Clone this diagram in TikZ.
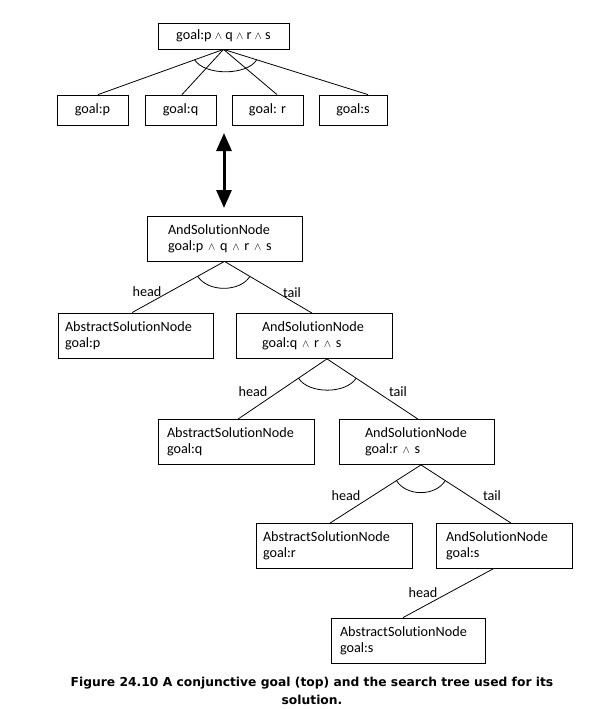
\documentclass[tikz,border=0pt]{standalone}
\usepackage{fontspec}
\setmainfont[Ligatures=NoCommon]{Carlito}
\newfontfamily\capfont{DejaVu Sans}
\usetikzlibrary{arrows.meta,calc}
\hyphenpenalty=10000
\exhyphenpenalty=10000
\newcommand\wdg{{\fontsize{11}{11}\selectfont$\wedge$}}
\newcommand\andarc[4]{%
  \draw[edge] ($(#1)!#4!(#2)$) .. controls +(10,16) and +(-10,16) .. ($(#1)!#4!(#3)$);}
\begin{document}
\begin{tikzpicture}[x=1pt,y=-1pt,
  txt/.style={font=\fontsize{14.2}{16}\selectfont},
  gbox/.style={draw, line width=0.8pt, rectangle, txt, inner sep=0pt, minimum height=30, minimum width=71},
  sbox/.style n args={3}{draw, line width=0.8pt, rectangle, txt, inner ysep=0pt,
     minimum height=45, minimum width=#1, inner xsep=#2, text width=#3, align=left},
  edge/.style={line width=0.8pt},
  lab/.style={txt, inner sep=0pt},
  bigarrow/.style={line width=3pt, {Triangle[length=18pt,width=15pt]}-{Triangle[length=18pt,width=15pt]}}
]
\useasboundingbox (0,0) rectangle (597,709);

% top conjunctive goal
\node[gbox, minimum width=131, minimum height=26] (top) at (223.5,36) {goal:p \wdg{} q \wdg{} r \wdg{} s};
\node[gbox] (g1) at (92.5,110) {goal:p};
\node[gbox] (g2) at (180.5,110) {goal:q};
\node[gbox] (g3) at (267.5,110) {goal: r};
\node[gbox, minimum width=68] (g4) at (353,110) {goal:s};
\coordinate (t0) at (top.south);
\coordinate (e1) at ($(g1.north)+(5.5,0)$);
\coordinate (e2) at ($(g2.north)+(1.5,0)$);
\coordinate (e3) at ($(g3.north)+(9.5,0)$);
\coordinate (e4) at ($(g4.north)+(15,0)$);
\draw[edge] (t0) -- (e1);
\draw[edge] (t0) -- (e2);
\draw[edge] (t0) -- (e3);
\draw[edge] (t0) -- (e4);
\andarc{t0}{e1}{e4}{0.23}

% double arrow
\coordinate (da) at (224,133);
\coordinate (db) at (224,208);
\draw[bigarrow] (da) -- (db);

% search tree
\node[sbox={155}{21}{113}] (r0) at (224.5,238.5) {AndSolutionNode\\goal:p \wdg{} q \wdg{} r \wdg{} s};
\node[sbox={155}{7}{141}] (a1) at (135.5,335.5) {AbstractSolutionNode\\goal:p};
\node[sbox={156}{26}{104}] (r1) at (314,336) {AndSolutionNode\\goal:q \wdg{} r \wdg{} s};
\node[sbox={156}{9}{138}] (a2) at (236,442) {AbstractSolutionNode\\goal:q};
\node[sbox={155}{26}{103}] (r2) at (416.5,442) {AndSolutionNode\\goal:r \wdg{} s};
\node[sbox={156}{7}{142}] (a3) at (334,546) {AbstractSolutionNode\\goal:r};
\node[sbox={136}{10}{116}] (r3) at (504,546) {AndSolutionNode\\goal:s};
\node[sbox={154}{9}{136}] (a4) at (408,640.5) {AbstractSolutionNode\\goal:s};

% level 1
\coordinate (p0) at (r0.south);
\coordinate (h0) at ($(a1.north)+(-3.5,0)$);
\coordinate (k0) at ($(r1.north)+(-2,0)$);
\draw[edge] (p0) -- node[lab, pos=0.596, xshift=-22.4] (lh0) {head} (h0);
\draw[edge] (p0) -- node[lab, pos=0.596, xshift=15.4] (lt0) {tail} (k0);
\andarc{p0}{h0}{k0}{0.29}

% level 2
\coordinate (p1) at ($(r1.south)+(13,0)$);
\coordinate (h1) at ($(a2.north)+(2,0)$);
\coordinate (k1) at ($(r2.north)+(1.5,0)$);
\draw[edge] (p1) -- node[lab, pos=0.54, xshift=-25.9] (lh1) {head} (h1);
\draw[edge] (p1) -- node[lab, pos=0.54, xshift=21.9] (lt1) {tail} (k1);
\andarc{p1}{h1}{k1}{0.32}

% level 3
\coordinate (p2) at ($(r2.south)+(4.5,0)$);
\coordinate (h2) at ($(a3.north)+(-4,0)$);
\coordinate (k2) at ($(r3.north)+(7,0)$);
\draw[edge] (p2) -- node[lab, pos=0.525, xshift=-27.2] (lh2) {head} (h2);
\draw[edge] (p2) -- node[lab, pos=0.525, xshift=23.7] (lt2) {tail} (k2);
\andarc{p2}{h2}{k2}{0.27}

% level 4
\coordinate (p3) at ($(r3.south)+(-11,0)$);
\coordinate (h3) at ($(a4.north)+(-5,0)$);
\draw[edge] (p3) -- node[lab, pos=0.49, xshift=-25.9] (lh3) {head} (h3);

% caption
\node[font=\capfont\bfseries\fontsize{12.3}{18}\selectfont, align=center, inner sep=0pt] (cap) at (312,691)
  {Figure 24.10 A conjunctive goal (top) and the search tree used for its\\solution.};
\end{tikzpicture}
\end{document}
